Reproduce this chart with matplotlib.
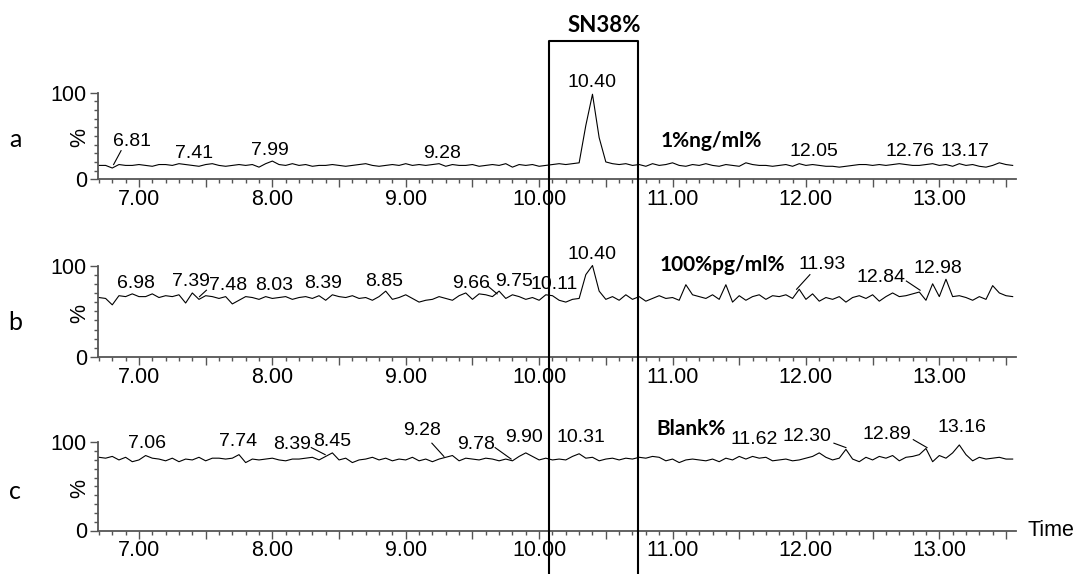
import numpy as np
import matplotlib
matplotlib.use("Agg")
import matplotlib.pyplot as plt
from matplotlib.ticker import MultipleLocator, FuncFormatter
from matplotlib.lines import Line2D
import matplotlib.transforms as mtransforms

plt.rcParams['font.family'] = ['Liberation Sans', 'DejaVu Sans']

# tiempo de retencion (min), muestreo cada 0.05
tiempo = np.round(6.70 + 0.05 * np.arange(138), 2)

# intensidad relativa (%) de cada cromatograma
traza_a = [16, 16, 13, 17, 16, 16, 17, 16, 15, 17,
           17, 16, 18, 17, 16, 15, 17, 18, 16, 15,
           16, 17, 16, 17, 14, 18, 21, 17, 16, 18,
           16, 17, 15, 16, 16, 17, 16, 15, 16, 17,
           18, 16, 15, 16, 17, 16, 18, 16, 17, 16,
           17, 18, 15, 17, 16, 16, 17, 15, 16, 17,
           16, 18, 14, 17, 16, 17, 15, 16, 17, 18,
           17, 18, 19, 62, 98, 48, 20, 18, 17, 18,
           16, 17, 15, 18, 16, 17, 19, 16, 15, 17,
           16, 18, 16, 15, 17, 16, 15, 19, 17, 16,
           16, 15, 16, 17, 15, 18, 16, 17, 16, 15,
           15, 14, 15, 16, 17, 17, 16, 17, 16, 17,
           18, 17, 16, 16, 17, 18, 16, 17, 15, 18,
           16, 17, 15, 14, 16, 19, 17, 16]

traza_b = [65, 64, 57, 67, 66, 69, 66, 66, 69, 65,
           67, 66, 68, 59, 70, 63, 67, 66, 64, 66,
           58, 62, 66, 65, 63, 66, 64, 65, 66, 63,
           65, 66, 64, 67, 62, 68, 66, 65, 67, 64,
           65, 62, 66, 72, 63, 65, 68, 64, 60, 62,
           63, 66, 64, 62, 67, 70, 63, 69, 68, 66,
           72, 64, 68, 66, 63, 65, 62, 68, 67, 62,
           60, 63, 64, 90, 100, 72, 63, 66, 62, 68,
           63, 66, 61, 64, 67, 64, 65, 62, 79, 68,
           66, 64, 68, 63, 79, 60, 67, 62, 66, 68,
           63, 67, 66, 68, 64, 74, 63, 69, 61, 65,
           63, 66, 60, 65, 67, 64, 68, 61, 66, 70,
           66, 67, 69, 71, 62, 80, 66, 85, 66, 67,
           65, 62, 66, 63, 78, 70, 67, 66]

traza_c = [83, 82, 84, 80, 83, 78, 80, 85, 82, 81,
           79, 82, 78, 81, 80, 83, 79, 82, 82, 81,
           82, 86, 77, 81, 80, 81, 82, 80, 79, 81,
           81, 82, 83, 80, 84, 88, 80, 82, 77, 80,
           81, 83, 80, 82, 79, 81, 80, 83, 79, 81,
           78, 81, 83, 85, 79, 82, 81, 80, 82, 81,
           79, 81, 79, 84, 88, 84, 80, 82, 80, 81,
           80, 84, 87, 82, 83, 79, 81, 82, 80, 82,
           81, 83, 82, 84, 83, 79, 81, 77, 80, 81,
           80, 79, 81, 78, 82, 80, 84, 81, 84, 82,
           83, 79, 80, 81, 79, 80, 82, 84, 88, 83,
           80, 82, 92, 81, 78, 83, 80, 84, 82, 85,
           79, 83, 84, 86, 93, 78, 85, 82, 88, 97,
           86, 79, 83, 81, 82, 83, 81, 81]

# etiquetas de picos: texto, x centro (min), y centro (%)
etq_a = ["6.81", "7.41", "7.99", "9.28", "10.40", "12.05", "12.76", "13.17"]
etq_a_x = [6.95, 7.41, 7.98, 9.27, 10.40, 12.06, 12.78, 13.19]
etq_a_y = [44, 30, 33, 30, 111, 32, 32, 32]
lineas_a = [(6.866, 33, 6.81, 17)]

etq_b = ["6.98", "7.39", "7.48", "8.03", "8.39", "8.85", "9.66", "9.75",
         "10.11", "10.40", "11.93", "12.84", "12.98"]
etq_b_x = [6.98, 7.39, 7.67, 8.01, 8.38, 8.84, 9.49, 9.81,
           10.11, 10.40, 12.12, 12.56, 12.99]
etq_b_y = [80, 82, 78, 78, 80, 83, 80, 82, 79, 112, 101, 87, 97]
lineas_b = [(7.506, 73, 7.454, 66), (9.62, 77, 9.685, 69),
            (12.03, 90, 11.93, 74), (12.753, 83, 12.856, 73)]

etq_c = ["7.06", "7.74", "8.39", "8.45", "9.28", "9.78", "9.90", "10.31",
         "11.62", "12.30", "12.89", "13.16"]
etq_c_x = [7.06, 7.74, 8.15, 8.45, 9.12, 9.53, 9.89, 10.31,
           11.61, 12.01, 12.61, 13.17]
etq_c_y = [99, 101, 97, 101, 113, 98, 105, 105, 103, 107, 109, 117]
lineas_c = [(8.292, 94, 8.396, 86), (9.196, 99, 9.286, 84),
            (9.67, 94, 9.79, 81), (12.21, 99, 12.30, 94),
            (12.805, 103, 12.908, 94)]

# nombre de muestra (x izquierda, y centro)
muestra_a = [("1%ng/ml%", 10.91, 44)]
muestra_b = [("100%pg/ml%", 10.905, 101)]
muestra_c = [("Blank%", 10.88, 115)]

caja_x = [10.073, 10.741]

fig = plt.figure(figsize=(10.78, 5.74), dpi=100)
W, H = 1078, 574
x0, x1 = 98, 1016
pos = [(92.5, 179.3), (265.5, 357), (442.3, 530.5)]

def fmt_x(v, p):
    if abs(v - round(v)) < 1e-6:
        return f"{v:.2f}"
    return ""

ejes = []
for top, bot in pos:
    ax = fig.add_axes([x0 / W, 1 - bot / H, (x1 - x0) / W, (bot - top) / H])
    ax.set_xlim(6.693, 13.575)
    ax.set_ylim(0, 100)
    ax.spines['top'].set_visible(False)
    ax.spines['right'].set_visible(False)
    for s in ['left', 'bottom']:
        ax.spines[s].set_color('#555555')
        ax.spines[s].set_linewidth(1.3)
    ax.xaxis.set_major_locator(MultipleLocator(0.5))
    ax.xaxis.set_minor_locator(MultipleLocator(0.1))
    ax.xaxis.set_major_formatter(FuncFormatter(fmt_x))
    ax.set_yticks([0, 100])
    ax.set_yticklabels(['0', '100'])
    ax.yaxis.set_minor_locator(MultipleLocator(10))
    ax.tick_params(which='major', length=5.5, width=1, color='#555555',
                   labelsize=15.5, pad=1.5)
    ax.tick_params(which='minor', length=2.8, width=1, color='#555555')
    ax.tick_params(axis='y', which='major', pad=2.5, labelsize=15.5)
    ax.patch.set_visible(False)
    ax.text(-0.0196, 0.48, "%", rotation=90, ha='center', va='center',
            fontsize=15.5, transform=ax.transAxes)
    ejes.append(ax)

ax_a, ax_b, ax_c = ejes
trazas = [traza_a, traza_b, traza_c]
etiquetas = [(etq_a, etq_a_x, etq_a_y, lineas_a, muestra_a),
             (etq_b, etq_b_x, etq_b_y, lineas_b, muestra_b),
             (etq_c, etq_c_x, etq_c_y, lineas_c, muestra_c)]
letras = [("a", 0.455), ("b", 0.38), ("c", 0.44)]

for ax, tr, (et, ex, ey, ln, mu), (le, ly) in zip(ejes, trazas, etiquetas, letras):
    ax.plot(tiempo, tr, color='black', linewidth=0.8, clip_on=False)
    for t, x, y in zip(et, ex, ey):
        ax.text(x, y, t, ha='center', va='center', fontsize=14, clip_on=False)
    for xa, ya, xb, yb in ln:
        ax.plot([xa, xb], [ya, yb], color='black', linewidth=0.8, clip_on=False)
    for t, x, y in mu:
        ax.text(x, y, t, ha='left', va='center', fontsize=15,
                fontweight='bold', family=['Lato', 'DejaVu Sans'], clip_on=False)
    ax.text(-0.0904, ly, le, ha='center', va='center', fontsize=18,
            family=['Lato', 'DejaVu Sans'], transform=ax.transAxes)

ax_c.text(1.012, 0.0, "Time", ha='left', va='center', fontsize=15.5,
          transform=ax_c.transAxes)

# recuadro del pico SN38
trans = mtransforms.blended_transform_factory(ax_c.transData, fig.transFigure)
top_caja = 1 - 40.6 / H
fig.add_artist(Line2D([caja_x[0], caja_x[0], caja_x[1], caja_x[1]],
                      [0, top_caja, top_caja, 0], color='black',
                      linewidth=1.5, transform=trans))
fig.text(10.49, 1 - 25.4 / H, "SN38%", ha='center', va='center', fontsize=16,
         fontweight='bold', family=['Lato', 'DejaVu Sans'], transform=trans)

fig.savefig("out.png", dpi=100)
